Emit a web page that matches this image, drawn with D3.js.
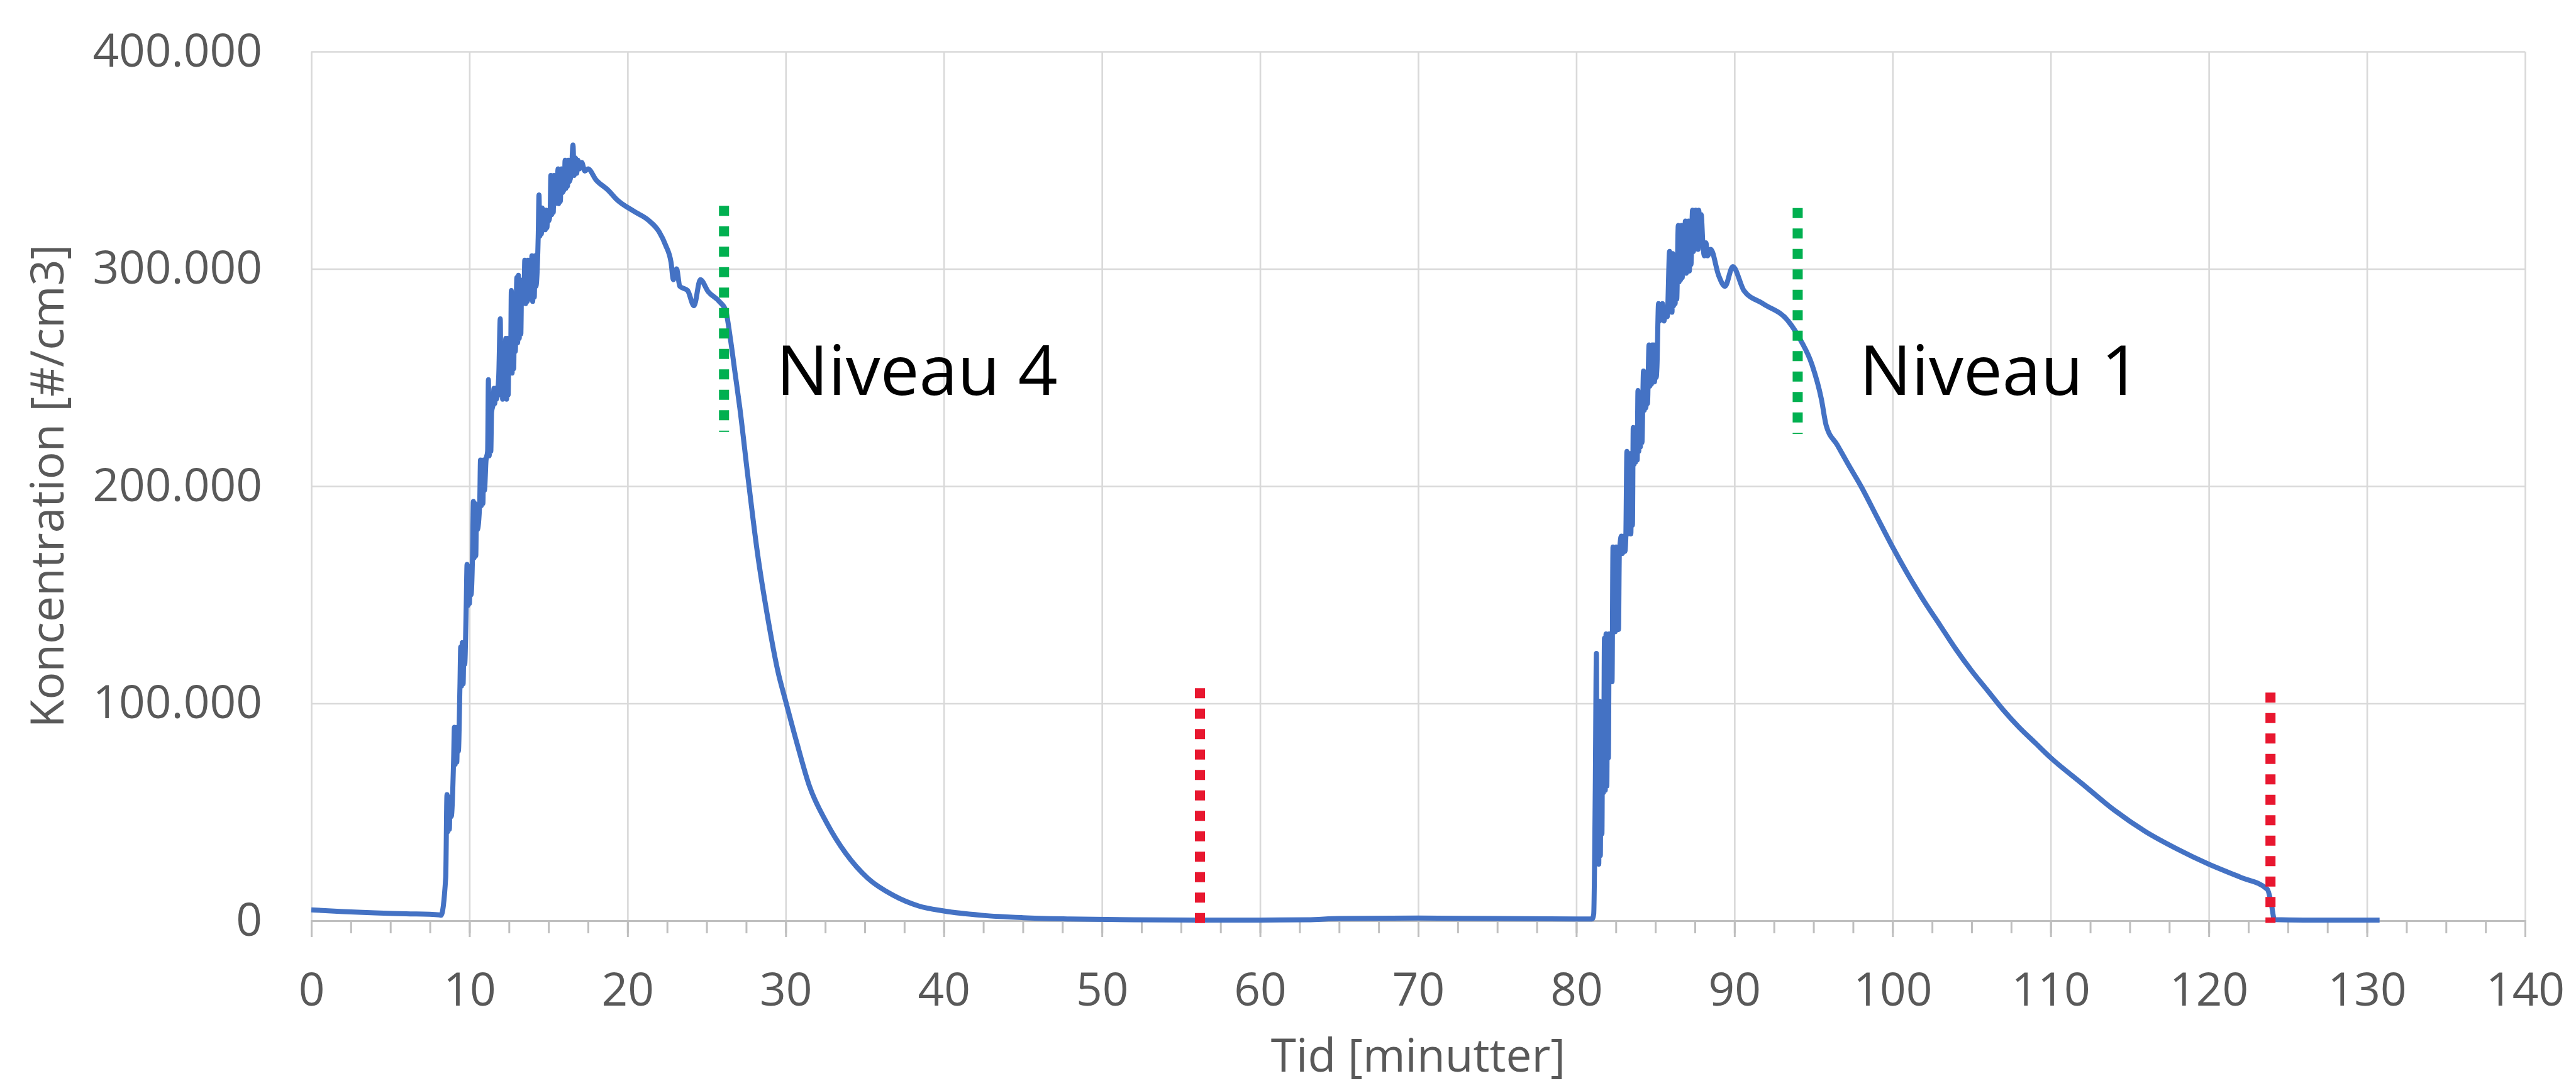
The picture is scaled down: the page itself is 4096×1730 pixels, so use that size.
<!DOCTYPE html>
<html>
<head>
<meta charset="utf-8">
<script src="https://cdn.jsdelivr.net/npm/d3@7"></script>
<style>
  html, body { margin: 0; padding: 0; background: #fff; }
  svg { display: block; }
  text { font-family: "Open Sans", "Noto Sans", sans-serif; }
</style>
</head>
<body>
<svg id="chart" width="4096" height="1730"></svg>
<script>
// tid i minutter
var time = [
  0, 2, 4, 6, 8.1, 8.2, 8.5,
  8.58, 8.63, 8.68, 8.73, 8.78, 8.85,
  9.0, 9.05, 9.1, 9.15, 9.2, 9.25, 9.3,
  9.4, 9.45, 9.5, 9.55, 9.6, 9.65, 9.7,
  9.8, 9.85, 9.9, 9.95, 10.0, 10.05, 10.1,
  10.2, 10.25, 10.3, 10.35, 10.4, 10.45, 10.5,
  10.65, 10.7, 10.75, 10.8, 10.85, 10.9, 10.95,
  11.05, 11.15, 11.2, 11.25, 11.3, 11.35, 11.4,
  11.5, 11.55, 11.6, 11.65, 11.7,
  11.85, 11.95, 12.0, 12.05, 12.1, 12.15, 12.2,
  12.3, 12.35, 12.4, 12.45, 12.5,
  12.6, 12.65, 12.7, 12.75, 12.8, 12.85, 12.9,
  13.0, 13.05, 13.1, 13.15, 13.2, 13.25, 13.3,
  13.45, 13.5, 13.55, 13.6, 13.65, 13.7, 13.75,
  13.9, 13.95, 14.0, 14.05, 14.1, 14.15, 14.2,
  14.35, 14.4, 14.45, 14.5, 14.55, 14.6,
  14.7, 14.75, 14.8, 14.85, 14.9, 14.95, 15.0,
  15.1, 15.15, 15.2, 15.25, 15.3, 15.35, 15.4,
  15.55, 15.6, 15.65, 15.7, 15.75, 15.8, 15.85,
  16.0, 16.05, 16.1, 16.15, 16.2, 16.25, 16.3,
  16.45, 16.55, 16.62, 16.7, 16.78, 16.86, 16.96, 17.1, 17.3, 17.5,
  18.0, 18.8, 19.3, 20.4, 21.3, 22.0, 22.4, 22.75, 22.9, 23.1, 23.3, 23.8, 24.2, 24.6, 25.1, 25.8,
  26.2, 26.5, 26.8, 27.1, 27.6, 28.2, 28.9, 29.5, 30.0, 30.7, 31.5, 32.6, 33.8, 35.2, 36.8, 38.4,
  40.0, 42.4, 45.0, 48, 52, 56, 60, 63, 65, 70, 75, 80, 81.0,
  81.1, 81.2, 81.27, 81.32, 81.37, 81.42, 81.47, 81.52, 81.57, 81.62, 81.67, 81.72,
  81.78, 81.83, 81.88, 81.93, 81.98, 82.03, 82.08, 82.13, 82.2, 82.26,
  82.32, 82.37, 82.42, 82.47, 82.52, 82.57, 82.62, 82.67, 82.72,
  82.85, 82.92, 83.0, 83.07, 83.13,
  83.2, 83.25, 83.3, 83.35, 83.4, 83.45, 83.5, 83.55,
  83.6, 83.65, 83.7, 83.75, 83.8, 83.85,
  83.9, 83.95, 84.0, 84.05, 84.1, 84.15,
  84.25, 84.3, 84.35, 84.4, 84.45, 84.5,
  84.6, 84.65, 84.7, 84.75, 84.8, 84.85, 84.9, 84.95, 85.0, 85.05, 85.1,
  85.2, 85.25, 85.3, 85.35, 85.45, 85.55, 85.65, 85.75,
  85.9, 85.95, 86.0, 86.05, 86.1, 86.15, 86.2, 86.25, 86.3, 86.35,
  86.45, 86.5, 86.55, 86.6, 86.65, 86.7, 86.75, 86.8,
  86.9, 86.95, 87.0, 87.05, 87.1, 87.15, 87.2, 87.25,
  87.35, 87.4, 87.45, 87.5, 87.55, 87.6, 87.65, 87.7, 87.75, 87.8, 87.9,
  88.0, 88.1, 88.2, 88.3, 88.5,
  89.0, 89.4, 89.9, 90.6, 91.8, 93.4, 94.2, 94.9, 95.5, 95.8,
  96.5, 97.2, 98, 99, 100, 101, 102, 103, 104, 105, 106, 107, 108, 109, 110,
  112, 114, 116, 118, 120, 122, 123.7, 123.95, 124.15, 126, 130.8
];

// koncentration i 1000 #/cm3
var conc = [
  5, 4.2, 3.6, 3.2, 2.7, 2.5, 20,
  58, 41, 57, 42, 56, 48,
  74, 89, 72, 88, 73, 89, 78,
  108, 126, 108, 128, 109, 125, 118,
  146, 164, 145, 163, 146, 162, 150,
  170, 193, 167, 192, 168, 190, 180,
  192, 212, 191, 211, 192, 212, 198,
  212, 216, 249, 214, 236, 216, 234,
  238, 245, 238, 245, 240,
  250, 277, 242, 262, 240, 262, 242,
  268, 240, 268, 242, 266,
  254, 290, 252, 288, 254, 286, 262,
  296, 266, 297, 268, 295, 270, 292,
  286, 304, 284, 303, 285, 304, 288,
  286, 306, 285, 305, 287, 306, 292,
  315, 334, 315, 326, 316, 328,
  318, 327, 318, 327, 319, 326, 322,
  325, 343, 325, 342, 326, 343, 330,
  331, 346, 330, 345, 331, 346, 335,
  337, 350, 337, 349, 338, 350, 340,
  345, 357, 343, 351, 344, 350, 346, 349, 345, 346,
  341, 336, 332, 326.5, 322.5, 317, 311, 303, 295, 300, 292, 290, 283, 295, 289.5, 285,
  281, 268, 252, 236, 205, 170, 138, 115, 101, 82, 62, 45, 31, 19.5, 11.7, 6.8,
  4.5, 2.5, 1.4, 0.8, 0.4, 0.3, 0.3, 0.4, 1.0, 1.2, 1.0, 0.8, 0.8,
  3, 60, 123, 30, 95, 26, 101, 30, 100, 40, 99, 59,
  130, 60, 132, 62, 131, 75, 132, 110, 130, 110,
  172, 134, 170, 133, 172, 135, 171, 134, 168,
  177, 169, 177, 170, 176,
  216, 178, 214, 179, 215, 178, 212, 182,
  227, 210, 226, 211, 225, 212,
  244, 216, 243, 218, 242, 220,
  253, 235, 252, 236, 251, 238,
  265, 246, 264, 247, 265, 248, 265, 248, 262, 250, 255,
  284, 276, 283, 277, 284, 276, 282, 278,
  308, 282, 306, 280, 307, 283, 305, 284, 304, 286,
  320, 294, 319, 295, 320, 296, 318, 298,
  322, 298, 321, 300, 322, 299, 320, 302,
  327, 308, 326, 309, 327, 310, 326, 309, 327, 312, 325,
  312, 306, 312, 306, 309,
  297, 292, 301, 290, 284, 276, 267, 256, 240, 228,
  219, 210, 200, 186, 172, 159, 147, 136, 125, 115, 106, 97, 89, 82, 75,
  63, 51, 41, 33, 26, 20, 14.5, 8, 0.5, 0.3, 0.3
];

// lodrette markeringer: [tid, fra, til] (1000 #/cm3)
var greenMarks = [[26.1, 329, 225], [94.0, 328, 224]];
var redMarks = [[56.2, 107, -3], [123.9, 105, -1]];

var labels = [
  { text: "Niveau 4", t: 29.4, v: 242 },
  { text: "Niveau 1", t: 97.9, v: 242 }
];

var xTicks = d3.range(0, 141, 10);
var xMinorTicks = d3.range(0, 140.1, 2.5);
var yTicks = [0, 100, 200, 300, 400];

var xTitle = "Tid [minutter]";
var yTitle = "Koncentration [#/cm3]";

var margin = { top: 82, right: 81, bottom: 266, left: 495 };

var svg = d3.select("#chart");
var width = +svg.attr("width") - margin.left - margin.right;
var height = +svg.attr("height") - margin.top - margin.bottom;

var g = svg.append("g")
  .attr("transform", "translate(" + margin.left + "," + margin.top + ")");

var x = d3.scaleLinear().domain([0, 140]).range([0, width]);
var y = d3.scaleLinear().domain([0, 400]).range([height, 0]);

var da = d3.formatLocale({ decimal: ",", thousands: ".", grouping: [3], currency: ["", " kr."] });
var fmt = da.format(",d");

// gitterlinjer
g.append("g")
  .attr("class", "grid")
  .call(d3.axisLeft(y).tickValues(yTicks).tickSize(-width).tickFormat(""))
  .call(function (s) { s.select(".domain").remove(); });

g.append("g")
  .attr("class", "grid")
  .call(d3.axisBottom(x).tickValues(xTicks).tickSize(height).tickFormat(""))
  .call(function (s) { s.select(".domain").remove(); });

g.selectAll(".grid line")
  .attr("stroke", "#d9d9d9")
  .attr("stroke-width", 2.6);

// x-akse med små tickmarks
g.append("g")
  .attr("class", "axis minor")
  .attr("transform", "translate(0," + height + ")")
  .call(d3.axisBottom(x).tickValues(xMinorTicks).tickSize(20).tickFormat(""))
  .call(function (s) { s.select(".domain").remove(); });

var xAxis = g.append("g")
  .attr("class", "axis axis--x")
  .attr("transform", "translate(0," + height + ")")
  .call(d3.axisBottom(x).tickValues(xTicks).tickSize(26).tickPadding(57).tickFormat(d3.format("d")));

g.selectAll(".axis line, .axis .domain")
  .attr("stroke", "#bfbfbf")
  .attr("stroke-width", 3);

xAxis.selectAll("text")
  .attr("fill", "#595959")
  .style("font-size", "73px")
  .style("font-family", "'Open Sans', sans-serif");

var yAxis = g.append("g")
  .attr("class", "axis axis--y")
  .call(d3.axisLeft(y).tickValues(yTicks).tickSize(0).tickPadding(78).tickFormat(function (d) { return fmt(d * 1000); }));

yAxis.select(".domain").remove();
yAxis.selectAll("text")
  .attr("fill", "#595959")
  .style("font-size", "73px")
  .style("font-family", "'Open Sans', sans-serif");

// kurven
var line = d3.line()
  .x(function (d, i) { return x(time[i]); })
  .y(function (d) { return y(d); })
  .curve(d3.curveMonotoneX);

g.append("path")
  .datum(conc)
  .attr("fill", "none")
  .attr("stroke", "#4472c4")
  .attr("stroke-width", 8)
  .attr("stroke-linejoin", "round")
  .attr("d", line);

// stiplede markeringer
function marks(list, color) {
  g.selectAll(null)
    .data(list)
    .enter().append("line")
    .attr("x1", function (d) { return x(d[0]); })
    .attr("x2", function (d) { return x(d[0]); })
    .attr("y1", function (d) { return y(d[1]); })
    .attr("y2", function (d) { return y(d[2]); })
    .attr("stroke", color)
    .attr("stroke-width", 16)
    .attr("stroke-dasharray", "16,16.5");
}
marks(greenMarks, "#00b050");
marks(redMarks, "#e8172f");

g.selectAll(".niveau")
  .data(labels)
  .enter().append("text")
  .attr("class", "niveau")
  .attr("x", function (d) { return x(d.t); })
  .attr("y", function (d) { return y(d.v); })
  .attr("fill", "#000")
  .style("font-size", "110px")
  .text(function (d) { return d.text; });

// aksetitler
svg.append("text")
  .attr("transform", "translate(101," + (margin.top + height / 2) + ") rotate(-90)")
  .attr("text-anchor", "middle")
  .attr("fill", "#595959")
  .style("font-size", "73px")
  .text(yTitle);

svg.append("text")
  .attr("x", margin.left + width / 2)
  .attr("y", 1704)
  .attr("text-anchor", "middle")
  .attr("fill", "#595959")
  .style("font-size", "73px")
  .text(xTitle);
</script>
</body>
</html>
